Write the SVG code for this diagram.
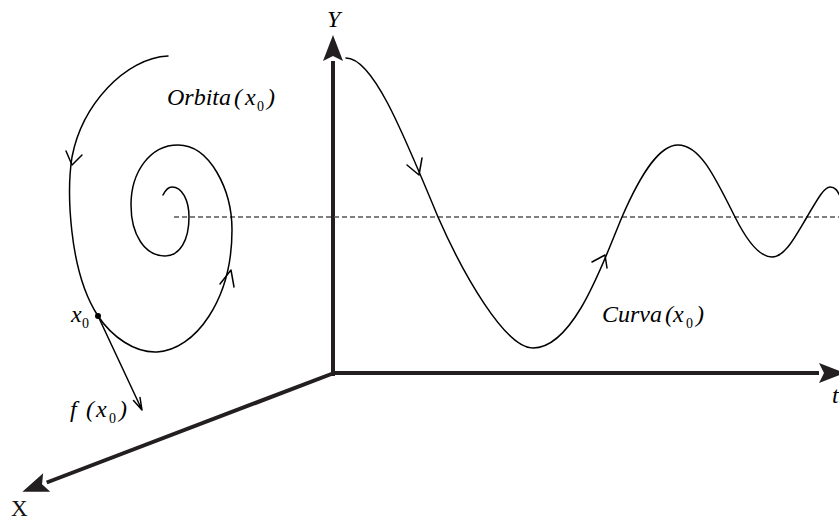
<svg xmlns="http://www.w3.org/2000/svg" width="839" height="522" viewBox="0 0 839 522">
<style>
.ax{stroke:#231f20;stroke-width:4;fill:none}
.cv{stroke:#000;stroke-width:1.5;fill:none;stroke-linejoin:round;stroke-linecap:round}
.dash{stroke:#555;stroke-width:1.5;stroke-dasharray:5 3;fill:none}
.it{font-family:"Liberation Serif","DejaVu Serif","Times New Roman",serif;font-style:italic;font-size:24px;fill:#000}
.up{font-family:"Liberation Serif","DejaVu Serif","Times New Roman",serif;font-size:23px;fill:#111}
.sub{font-size:14px;font-style:normal}
</style>
<defs>
<marker id="big" viewBox="-1 -11 28 22" markerWidth="28" markerHeight="22" refX="0" refY="0" markerUnits="userSpaceOnUse" orient="auto">
<path d="M0,0 L-5,-10 L21,0 L-5,10 Z" fill="#231f20" transform="translate(5,0)"/>
</marker>
</defs>
<rect width="839" height="522" fill="#fff"/>
<g id="axes">
<line class="ax" x1="333" y1="376" x2="333" y2="61" marker-end="url(#big)"/>
<line class="ax" x1="331" y1="373" x2="819" y2="373" marker-end="url(#big)"/>
<line class="ax" x1="334" y1="373" x2="46.7" y2="482.5" marker-end="url(#big)"/>
</g>
<line id="equilibrium" class="dash" x1="174" y1="217" x2="839" y2="217"/>
<g id="orbita">
<path class="cv" d="M168,56 C125,58 82,105 72,157 C67,189 68,270 98,316 C112,337 135,353 157,352 C195,350 232,300 232,230 C232,190 210,145 178,145 C150,145 131,172 131,205 C131,235 145,256 165,256 C180,256 189,240 189,217 C189,200 182,187 172,187 C168,187 165,191 163,195"/>
<path class="cv" d="M66,151 L72,165 L82,155"/>
<path class="cv" d="M220,284 L231,270 L234,287"/>
<circle cx="98" cy="316" r="3" fill="#000"/>
<path class="cv" d="M98,316 L142,410 M133.5,400.5 L142,410 L140,397.5"/>
</g>
<g id="curva">
<path class="cv" d="M346,58 C372,58 400,125 438,217 C463,274 505,348 533,348 C575,348 605,257 622,217 C642,171 660,145 678,145 C700,145 715,177 735,217 C747,241 760,257 772,257 C785,257 795,237 807,217 C817,200 824,187 830,187 C836,187 838,192 840,196"/>
<path class="cv" d="M407,165 L419,175 L422,158"/>
<path class="cv" d="M592,262 L605,255 L607,268"/>
</g>
<g id="labels">
<text class="it" x="167" y="105">Orbita<tspan x="234">(</tspan><tspan x="245">x</tspan><tspan class="sub" x="257" y="111">0</tspan><tspan x="267" y="105">)</tspan></text>
<text class="it" x="602" y="322">Curva<tspan x="665">(</tspan><tspan x="673">x</tspan><tspan class="sub" x="686" y="328">0</tspan><tspan x="696" y="322">)</tspan></text>
<text class="it" x="71" y="322">x<tspan class="sub" x="82" y="328">0</tspan></text>
<text class="it" x="70" y="417">f<tspan x="86">(</tspan><tspan x="96">x</tspan><tspan class="sub" x="109" y="423">0</tspan><tspan x="119" y="417">)</tspan></text>
<text class="it" x="327" y="27">Y</text>
<text class="it" x="832" y="403">t</text>
<text class="up" x="11" y="516">X</text>
</g>
</svg>
